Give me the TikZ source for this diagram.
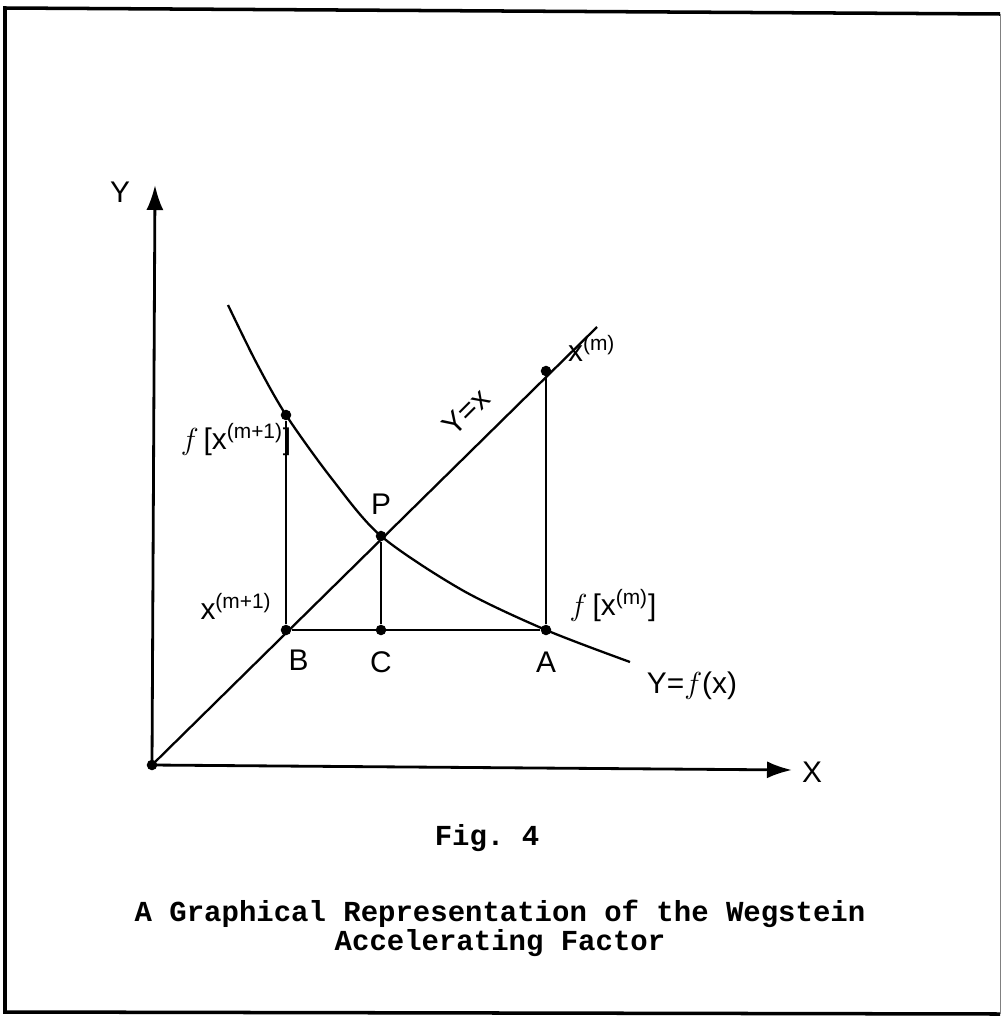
\documentclass[tikz,border=0pt]{standalone}
\usepackage{fontspec}
\setsansfont{Liberation Sans}
\setmonofont{Liberation Mono}
\usetikzlibrary{arrows.meta,positioning}

\begin{document}
\begin{tikzpicture}[x=0.02cm,y=-0.02cm,
 axis/.style={line width=1.6pt, -{Latex[length=5mm,width=3.4mm]}},
 curve/.style={line width=1.3pt},
 dot/.style={circle, fill, inner sep=0pt, minimum size=6pt},
 lbl/.style={font=\sffamily\fontsize{17}{20}\selectfont, inner sep=1pt},
 captext/.style={font=\ttfamily\bfseries\fontsize{16.5}{14.5}\selectfont, align=center}
]
\useasboundingbox (0,0) rectangle (1002,1017);
% frame
\draw[line width=2pt] (1000,14) -- (5,8) -- (5,1012) -- (1000,1014);
\draw[line width=0.4pt, gray] (1000,14) -- (1000,1014);

% points
\coordinate (O)    at (152,765);
\coordinate (ytip) at (155,185);
\coordinate (xtip) at (792,770);
\coordinate (diag) at (597,327);
\node[dot] (B)  at (286,630) {};
\node[dot] (C)  at (381,630) {};
\node[dot] (A)  at (546,630) {};
\node[dot] (P)  at (381,536) {};
\node[dot] (fb) at (286,415) {};
\node[dot] (xm) at (546,371) {};
\node[dot] (o)  at (O) {};

% axes
\draw[axis] (O) -- (ytip);
\draw[axis] (O) -- (xtip);
\node[lbl] (ylab) at (120,192) {Y};
\node[lbl] (xlab) at (812,772) {X};

% y = x and y = f(x)
\draw[curve] (O) -- (diag);
\draw[curve] plot[smooth] coordinates {(228,305) (256,362) (286,415) (332,479) (381,536) (462,590) (546,630) (630,662)};

% verticals and base
\draw[curve] (B) -- (fb);
\draw[curve] (C) -- (P);
\draw[curve] (A) -- (xm);
\draw[curve] (B) -- (A);

% labels
\node[lbl, below right=8pt and -2pt of B] (Blab) {B};
\node[lbl, below=8pt of C] (Clab) {C};
\node[lbl, below=8pt of A] (Alab) {A};
\node[lbl, above=8pt of P] (Plab) {P};
\node[lbl] (fbl) at (236,440) {$f$\,[x\textsuperscript{(m+1)}]};
\node[lbl, anchor=west] (xml) at (566,348) {x\textsuperscript{(m)}};
\node[lbl] (fal) at (613,606) {$f$\,[x\textsuperscript{(m)}]};
\node[lbl] (xbl) at (236,606) {x\textsuperscript{(m+1)}};
\node[lbl, rotate=45] (idl) at (466,412) {Y=x};
\node[lbl] (fxl) at (692,686) {Y=$f$(x)};

% caption
\node[captext] (fig) at (487,838) {Fig. 4};
\node[captext] (title) at (500,928) {A Graphical Representation of the Wegstein\\Accelerating Factor};
\end{tikzpicture}
\end{document}
